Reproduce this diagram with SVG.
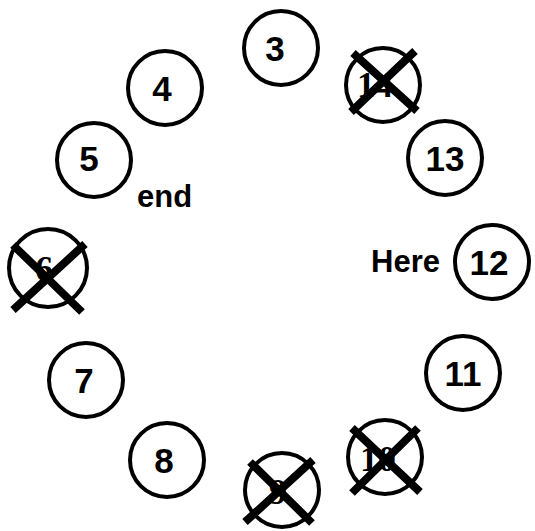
<svg xmlns="http://www.w3.org/2000/svg" width="535" height="531" viewBox="0 0 535 531">
<style>
.c{fill:#fff;stroke:#000;stroke-width:4}
.t{font-family:"Liberation Sans",Arial,sans-serif;font-weight:bold;font-size:35px;fill:#000;text-anchor:middle}
.s{font-family:"Liberation Serif","Times New Roman",serif;font-weight:bold;font-size:36px;fill:#000;text-anchor:middle}
.x{stroke:#000;stroke-width:8;fill:none}
.l{font-family:"Liberation Sans",Arial,sans-serif;font-weight:bold;font-size:31px;fill:#000}
</style>
<rect width="535" height="531" fill="#fff"/>
<g id="connectors"></g>
<g id="n3"><circle class="c" cx="281" cy="48" r="37"/><text class="t" x="275" y="61">3</text></g>
<g id="n14"><circle class="c" cx="383" cy="85" r="37"/><text class="s" x="375" y="97">14</text><path class="x" d="M353 53L417 111M415 51L351 112"/></g>
<g id="n4"><circle class="c" cx="165" cy="88" r="37"/><text class="t" x="162" y="101">4</text></g>
<g id="n13"><circle class="c" cx="445" cy="158" r="37"/><text class="t" x="445" y="171">13</text></g>
<g id="n5"><circle class="c" cx="94" cy="160" r="37"/><text class="t" x="89" y="171">5</text></g>
<g id="end"><text class="l" x="137" y="207">end</text></g>
<g id="here"><text class="l" x="371" y="272">Here</text></g>
<g id="n12"><circle class="c" cx="492" cy="262" r="37"/><text class="t" x="489" y="275">12</text></g>
<g id="n6"><circle class="c" cx="48" cy="268" r="39"/><text class="s" x="44" y="281">6</text><path class="x" d="M13 245L82 312M85 244L13 310"/></g>
<g id="n11"><circle class="c" cx="463" cy="373" r="37"/><text class="t" x="463" y="386">11</text></g>
<g id="n7"><circle class="c" cx="86" cy="380" r="37"/><text class="t" x="84" y="393">7</text></g>
<g id="n10"><circle class="c" cx="385" cy="457" r="37"/><text class="s" x="378" y="471">10</text><path class="x" d="M352 428L420 492M418 428L352 493"/></g>
<g id="n8"><circle class="c" cx="167" cy="460" r="37"/><text class="t" x="164" y="473">8</text></g>
<g id="n9"><circle class="c" cx="282" cy="490" r="37"/><text class="s" x="278" y="504">9</text><path class="x" d="M250 462L312 523M313 460L245 522"/></g>
</svg>
